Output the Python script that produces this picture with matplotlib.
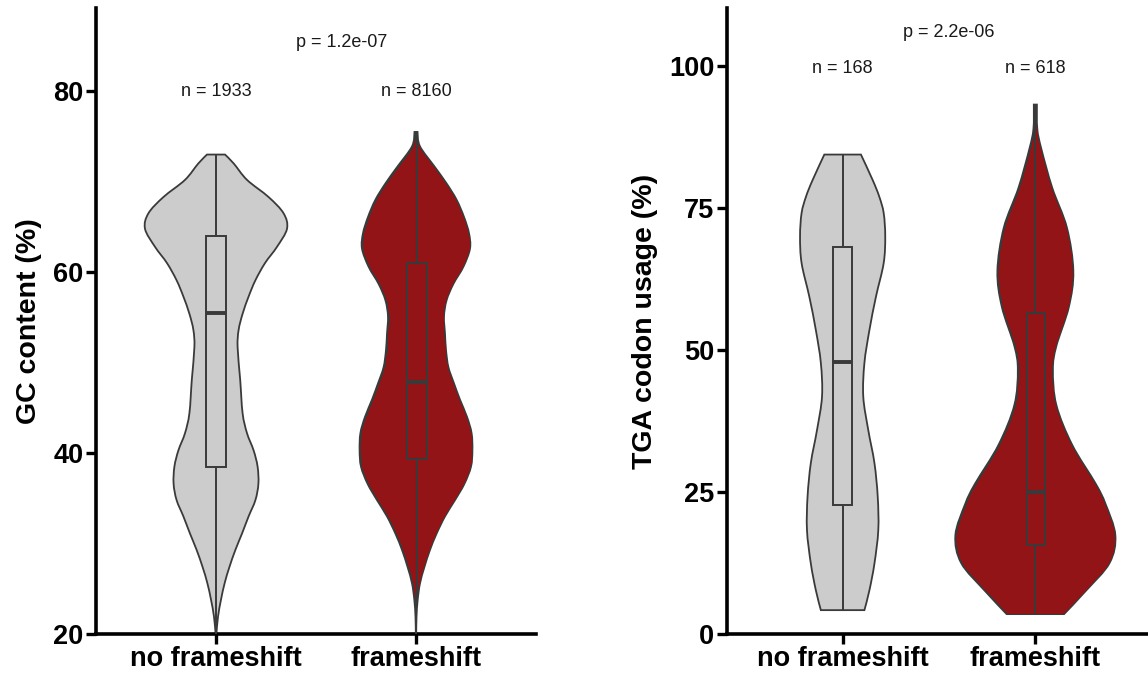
import matplotlib
matplotlib.use("Agg")
import matplotlib.pyplot as plt
from matplotlib.path import Path
from matplotlib.patches import PathPatch
import numpy as np

plt.rcParams['font.family'] = ['Liberation Sans', 'DejaVu Sans']

# ---------------- data ----------------
categories = ["no frameshift", "frameshift"]
fill_colors = ["#cccccc", "#921416"]

# Panel A: GC content (%)
gc_nofs_levels = [20.0, 21.9, 23.8, 25.6, 27.4, 29.3, 31.1, 33.0, 34.8, 36.6, 38.5, 40.3,
                  42.2, 44.4, 48.1, 51.7, 53.6, 55.4, 57.3, 59.1, 61.0, 62.8, 64.8, 66.5,
                  68.3, 70.2, 72.0, 73.0]
gc_nofs_halfw = [0.002, 0.010, 0.025, 0.043, 0.067, 0.097, 0.130, 0.163, 0.197, 0.212, 0.208, 0.188,
                 0.155, 0.133, 0.121, 0.108, 0.113, 0.133, 0.163, 0.197, 0.245, 0.305, 0.355, 0.338,
                 0.263, 0.155, 0.089, 0.045]
gc_fs_levels = [20.0, 21.9, 23.8, 25.6, 27.4, 29.3, 31.1, 33.0, 34.8, 36.6, 38.5, 40.3,
                42.2, 44.0, 45.9, 47.7, 49.5, 51.4, 53.2, 55.1, 56.9, 58.7, 60.6, 62.6,
                64.3, 66.1, 68.0, 69.8, 71.6, 73.9, 75.5]
gc_fs_halfw = [0.001, 0.0025, 0.0085, 0.020, 0.042, 0.070, 0.103, 0.145, 0.195, 0.242, 0.275, 0.282,
               0.278, 0.255, 0.220, 0.190, 0.162, 0.150, 0.145, 0.140, 0.153, 0.187, 0.237, 0.270,
               0.265, 0.240, 0.203, 0.153, 0.095, 0.020, 0.0075]
gc_box = {  # min, q1, median, q3, max
    "no frameshift": [20.0, 38.5, 55.5, 64.0, 73.0],
    "frameshift": [20.0, 39.5, 48.0, 61.0, 75.5],
}
gc_n = ["n = 1933", "n = 8160"]
gc_p = "p = 1.2e-07"

# Panel B: TGA codon usage (%)
tga_nofs_levels = [4.2, 7.7, 12.4, 18.3, 24.2, 30.1, 35.9, 41.8, 47.7, 53.5, 59.4, 65.3,
                   70.0, 74.1, 77.0, 79.9, 84.4]
tga_nofs_halfw = [0.113, 0.139, 0.165, 0.185, 0.182, 0.165, 0.133, 0.107, 0.113, 0.139, 0.173, 0.213,
                  0.221, 0.213, 0.190, 0.156, 0.095]
tga_fs_levels = [3.5, 7.6, 12.5, 17.4, 22.9, 26.4, 33.3, 40.3, 46.5, 50.7, 57.6, 63.9,
                 71.5, 78.5, 85.4, 88.9, 93.2]
tga_fs_halfw = [0.149, 0.262, 0.385, 0.415, 0.364, 0.314, 0.191, 0.109, 0.091, 0.109, 0.174, 0.197,
                0.164, 0.088, 0.031, 0.010, 0.008]
tga_box = {
    "no frameshift": [4.2, 22.7, 47.8, 68.2, 84.4],
    "frameshift": [3.5, 15.6, 25.0, 56.5, 93.2],
}
tga_n = ["n = 168", "n = 618"]
tga_p = "p = 2.2e-06"

# ---------------- drawing ----------------
EDGE = "#3a3a3a"
W, H = 1148, 677
fig = plt.figure(figsize=(W / 100, H / 100), dpi=100)

ax1 = fig.add_axes([96 / W, 43 / H, 440 / W, 626 / H])
ax2 = fig.add_axes([727 / W, 43 / H, 424 / W, 626 / H])


def smooth_side(pts):
    """Catmull-Rom through the given points expressed as cubic Bezier path pieces."""
    verts, codes = [], []
    n = len(pts)
    for k in range(n - 1):
        p0 = pts[k - 1] if k > 0 else pts[k]
        p1 = pts[k]
        p2 = pts[k + 1]
        p3 = pts[k + 2] if k + 2 < n else pts[k + 1]
        c1 = p1 + (p2 - p0) / 6.0
        c2 = p2 - (p3 - p1) / 6.0
        verts += [c1, c2, p2]
        codes += [Path.CURVE4] * 3
    return verts, codes


def violin_path(x, lev, hw):
    lev = np.asarray(lev, float)
    hw = np.asarray(hw, float)
    right = [np.array([x + w, y]) for w, y in zip(hw, lev)]
    left = [np.array([x - w, y]) for w, y in zip(hw[::-1], lev[::-1])]
    verts = [right[0]]
    codes = [Path.MOVETO]
    v, c = smooth_side(right)
    verts += v
    codes += c
    verts.append(left[0])
    codes.append(Path.LINETO)
    v, c = smooth_side(left)
    verts += v
    codes += c
    verts.append(right[0])
    codes.append(Path.CLOSEPOLY)
    return Path(np.array(verts), codes)


def draw_panel(ax, profiles, boxes, ntexts, ptext, ylim, yticks, ylabel, n_y, p_xy):
    for i, (cat, (lev, hw)) in enumerate(zip(categories, profiles)):
        patch = PathPatch(violin_path(i, lev, hw), facecolor=fill_colors[i],
                          edgecolor=EDGE, linewidth=1.3, zorder=2)
        ax.add_patch(patch)
        mn, q1, med, q3, mx = boxes[cat]
        ax.vlines(i, mn, q1, color=EDGE, linewidth=1.4, zorder=3)
        ax.vlines(i, q3, mx, color=EDGE, linewidth=1.4, zorder=3)
        ax.bar(i, q3 - q1, bottom=q1, width=0.1, facecolor="none",
               edgecolor=EDGE, linewidth=1.4, zorder=3)
        ax.hlines(med, i - 0.05, i + 0.05, color=EDGE, linewidth=2.8, zorder=4)
        ax.text(i, n_y, ntexts[i], ha="center", va="center", fontsize=13, color="#1a1a1a")
    ax.text(p_xy[0], p_xy[1], ptext, ha="center", va="center", fontsize=13, color="#1a1a1a")

    ax.set_xlim(-0.6, 1.6)
    ax.set_ylim(*ylim)
    ax.set_yticks(yticks)
    ax.set_xticks(range(len(categories)))
    ax.set_xticklabels(categories)
    ax.set_ylabel(ylabel, fontsize=20.5, fontweight="bold", labelpad=8)
    for lbl in ax.get_xticklabels() + ax.get_yticklabels():
        lbl.set_fontweight("bold")
        lbl.set_fontsize(19.5)
    for s in ["top", "right"]:
        ax.spines[s].set_visible(False)
    for s in ["left", "bottom"]:
        ax.spines[s].set_linewidth(2.6)
    ax.tick_params(axis="both", length=7, width=2.4, color="black", pad=2)
    ax.patch.set_alpha(0)


draw_panel(ax1, [(gc_nofs_levels, gc_nofs_halfw), (gc_fs_levels, gc_fs_halfw)],
           gc_box, gc_n, gc_p, (20, 89.2), [20, 40, 60, 80], "GC content (%)",
           80.0, (0.63, 85.4))
draw_panel(ax2, [(tga_nofs_levels, tga_nofs_halfw), (tga_fs_levels, tga_fs_halfw)],
           tga_box, tga_n, tga_p, (0, 110.2), [0, 25, 50, 75, 100], "TGA codon usage (%)",
           99.6, (0.55, 105.8))

fig.savefig("out.png", dpi=100)
